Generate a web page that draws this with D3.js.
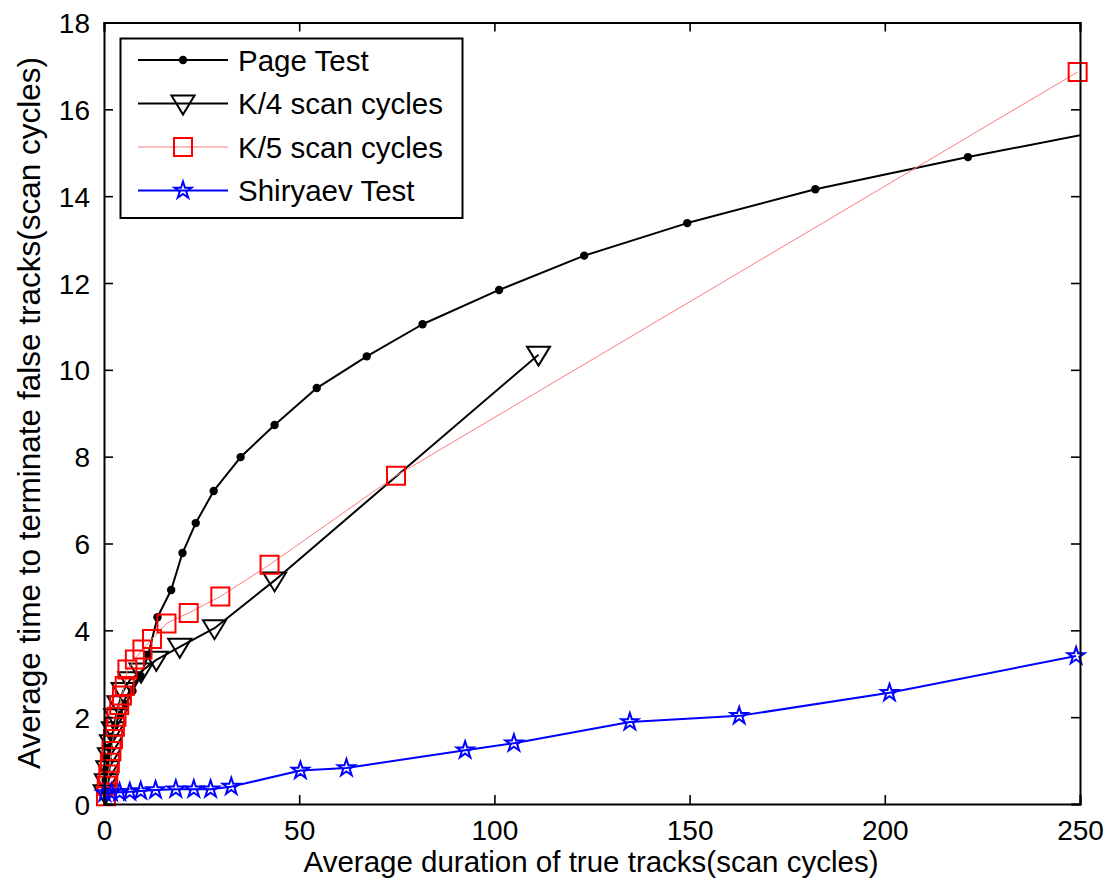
<!DOCTYPE html>
<html>
<head>
<meta charset="utf-8">
<script src="https://cdn.jsdelivr.net/npm/d3@7"></script>
<style>
  body { margin: 0; background: #fff; }
  text { font-family: "Liberation Sans", Arial, sans-serif; fill: #000; }
</style>
</head>
<body>
<svg id="chart" width="1116" height="881"></svg>
<script>
// values
const pageX = [0.2, 0.4, 0.6, 0.9, 1.3, 1.9, 2.8, 4.0, 5.5, 7.3, 9.4, 11.3, 13.7, 17.2, 20.1, 23.5, 28.1, 35.0, 43.7, 54.5, 67.3, 81.6, 101.2, 123.0, 149.4, 182.2, 221.3, 268];
const pageY = [0.3, 0.55, 0.8, 1.05, 1.3, 1.55, 1.8, 2.05, 2.3, 2.6, 2.95, 3.43, 4.30, 4.93, 5.78, 6.47, 7.21, 7.99, 8.73, 9.58, 10.31, 11.05, 11.84, 12.63, 13.38, 14.16, 14.9, 15.72];

const k4X = [0.3, 0.6, 1.0, 1.4, 1.9, 2.4, 3.0, 3.8, 4.9, 6.6, 9.5, 13.4, 19.4, 28.3, 43.7, 111.3];
const k4Y = [0.25, 0.5, 0.8, 1.1, 1.4, 1.7, 2.0, 2.3, 2.6, 2.85, 3.05, 3.32, 3.62, 4.05, 5.15, 10.35];

const k5X = [0.5, 0.7, 1.1, 1.5, 1.9, 2.3, 2.8, 3.2, 3.9, 4.6, 5.3, 6.0, 7.9, 9.85, 12.3, 16.0, 21.7, 29.8, 42.4, 74.8, 249.4];
const k5Y = [0.18, 0.42, 0.68, 0.95, 1.22, 1.50, 1.78, 2.01, 2.28, 2.50, 2.72, 3.10, 3.33, 3.56, 3.80, 4.16, 4.40, 4.78, 5.51, 7.56, 16.86];

const shirX = [0.2, 1.9, 4.0, 6.6, 9.4, 13.2, 18.4, 23.0, 27.3, 32.6, 50.3, 62.1, 92.5, 105.0, 134.7, 162.7, 201.2, 249.0];
const shirY = [0.25, 0.26, 0.27, 0.28, 0.30, 0.32, 0.34, 0.34, 0.34, 0.40, 0.77, 0.83, 1.24, 1.40, 1.89, 2.03, 2.56, 3.41];

const xTicks = [0, 50, 100, 150, 200, 250];
const yTicks = [0, 2, 4, 6, 8, 10, 12, 14, 16, 18];

const legendNames = ["Page Test", "K/4 scan cycles", "K/5 scan cycles", "Shiryaev Test"];

const mLeft = 104, mRight = 1080, mTop = 22.5, mBottom = 804;

const x = d3.scaleLinear().domain([0, 250]).range([mLeft, mRight]);
const y = d3.scaleLinear().domain([0, 18]).range([mBottom, mTop]);

const svg = d3.select("#chart");

svg.append("defs").append("clipPath").attr("id", "plotclip")
  .append("rect")
  .attr("x", mLeft).attr("y", mTop)
  .attr("width", mRight - mLeft).attr("height", mBottom - mTop);

const zip = (xs, ys) => xs.map((v, i) => [v, ys[i]]);

// marker shapes
const triPath = "M-11.5,-8L11.5,-8L0,11Z";
const sqPath = "M-9,-9L9,-9L9,9L-9,9Z";
const starPath = d3.symbol(d3.symbolStar, 90)();

const series = [
  { name: legendNames[0], pts: zip(pageX, pageY), color: "#000", width: 2, marker: "dot" },
  { name: legendNames[1], pts: zip(k4X, k4Y), color: "#000", width: 2, marker: "tri" },
  { name: legendNames[2], pts: zip(k5X, k5Y), color: "#ff7a7a", mcolor: "#ff0000", width: 1, marker: "sq" },
  { name: legendNames[3], pts: zip(shirX, shirY), color: "#0000ff", width: 2, marker: "star" }
];

const line = d3.line().x(d => x(d[0])).y(d => y(d[1]));

function drawMarker(sel, s) {
  const c = s.mcolor || s.color;
  if (s.marker === "dot") {
    sel.append("circle").attr("r", 4.2).attr("fill", c);
  } else {
    const p = s.marker === "tri" ? triPath : s.marker === "sq" ? sqPath : starPath;
    sel.append("path").attr("d", p)
      .attr("fill", "none").attr("stroke", c).attr("stroke-width", 2)
      .attr("stroke-linejoin", "miter");
  }
}

const plot = svg.append("g");

series.forEach(s => {
  plot.append("path")
    .attr("d", line(s.pts))
    .attr("clip-path", "url(#plotclip)")
    .attr("fill", "none")
    .attr("stroke", s.color)
    .attr("stroke-width", s.width)
    .attr("stroke-linejoin", "round");
  plot.append("g").selectAll("g")
    .data(s.pts.filter(d => d[0] <= 250))
    .join("g")
    .attr("transform", d => `translate(${x(d[0])},${y(d[1])})`)
    .each(function() { drawMarker(d3.select(this), s); });
});

// axes with inward ticks on all four sides
const tickLen = 9;
const xAxis = d3.axisBottom(x).tickValues(xTicks).tickSize(-tickLen).tickPadding(tickLen + 12);
const yAxis = d3.axisLeft(y).tickValues(yTicks).tickSize(-tickLen).tickPadding(tickLen + 5);

const gx = svg.append("g").attr("transform", `translate(0,${mBottom})`).call(xAxis);
const gy = svg.append("g").attr("transform", `translate(${mLeft},0)`).call(yAxis);
svg.append("g").attr("transform", `translate(0,${mTop})`)
  .call(d3.axisTop(x).tickValues(xTicks).tickSize(-tickLen).tickFormat(""));
svg.append("g").attr("transform", `translate(${mRight},0)`)
  .call(d3.axisRight(y).tickValues(yTicks).tickSize(-tickLen).tickFormat(""));

svg.selectAll(".domain").attr("stroke", "#000").attr("stroke-width", 2);
svg.selectAll(".tick line").attr("stroke", "#000").attr("stroke-width", 1.6);
gx.selectAll("text").attr("font-size", 28).attr("dy", "0.55em");
gy.selectAll("text").attr("font-size", 28).attr("dy", "0.36em");
svg.selectAll(".tick text").attr("fill", "#000").style("font-family", "'Liberation Sans', Arial, sans-serif");

// axis titles
svg.append("text")
  .attr("x", 591).attr("y", 872)
  .attr("text-anchor", "middle").attr("font-size", 29.5)
  .text("Average duration of true tracks(scan cycles)");

svg.append("text")
  .attr("transform", `translate(40,413) rotate(-90)`)
  .attr("text-anchor", "middle").attr("font-size", 31.5)
  .text("Average time to terminate false tracks(scan cycles)");

// legend
const lg = svg.append("g");
lg.append("rect")
  .attr("x", 120.5).attr("y", 38.5).attr("width", 342).attr("height", 179.5)
  .attr("fill", "#fff").attr("stroke", "#000").attr("stroke-width", 2);

series.forEach((s, i) => {
  const cy = 60 + i * 43.5;
  const row = lg.append("g");
  row.append("line")
    .attr("x1", 138).attr("x2", 228).attr("y1", cy).attr("y2", cy)
    .attr("stroke", s.color).attr("stroke-width", s.width);
  const m = row.append("g").attr("transform", `translate(183,${cy})`);
  drawMarker(m, s);
  row.append("text")
    .attr("x", 238).attr("y", cy).attr("dy", "0.36em")
    .attr("font-size", 29.5)
    .text(s.name);
});
</script>
</body>
</html>
